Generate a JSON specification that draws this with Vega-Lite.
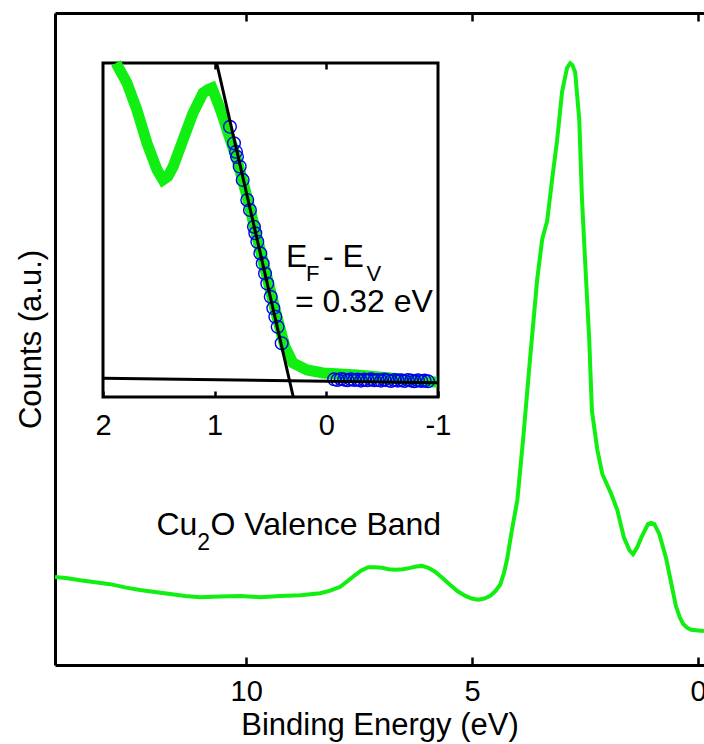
{
  "$schema": "https://vega.github.io/schema/vega-lite/v6.json",
  "autosize": "none",
  "width": 649,
  "height": 652,
  "padding": {"left": 55, "top": 13, "right": 0, "bottom": 79},
  "background": "white",
  "config": {
    "view": {"stroke": null},
    "font": "Liberation Sans",
    "axis": {
      "domainColor": "black", "domainWidth": 3, "tickColor": "black", "tickWidth": 2.5,
      "labelColor": "black", "titleColor": "black", "labelFont": "Liberation Sans", "titleFont": "Liberation Sans",
      "labelFontSize": 29, "titleFontSize": 31, "titleFontWeight": "normal", "grid": false,
      "labelFlush": false, "labelOverlap": false
    },
    "text": {"font": "Liberation Sans", "color": "black"}
  },
  "resolve": {"scale": {"x": "independent", "y": "independent"}, "axis": {"x": "independent", "y": "independent"}},
  "layer": [
    {
      "data": {"values": [
        {"e":14.23,"c":13.5},{"e":13.95,"c":13.3},{"e":13.67,"c":13.0},{"e":13.34,"c":12.7},{"e":13.01,"c":12.4},{"e":12.68,"c":11.9},{"e":12.35,"c":11.5},{"e":12.02,"c":11.2},{"e":11.68,"c":10.9},{"e":11.35,"c":10.6},{"e":11.02,"c":10.4},{"e":10.57,"c":10.5},{"e":10.13,"c":10.6},{"e":9.69,"c":10.4},{"e":9.25,"c":10.6},{"e":8.80,"c":10.7},{"e":8.36,"c":11.0},{"e":8.14,"c":11.4},{"e":7.92,"c":12.0},{"e":7.75,"c":12.9},{"e":7.59,"c":13.8},{"e":7.45,"c":14.5},{"e":7.30,"c":15.0},{"e":7.15,"c":15.0},{"e":6.99,"c":14.9},{"e":6.85,"c":14.7},{"e":6.70,"c":14.6},{"e":6.53,"c":14.7},{"e":6.37,"c":14.9},{"e":6.24,"c":15.1},{"e":6.11,"c":15.2},{"e":5.97,"c":14.9},{"e":5.82,"c":14.3},{"e":5.65,"c":13.3},{"e":5.49,"c":12.3},{"e":5.32,"c":11.3},{"e":5.15,"c":10.6},{"e":5.01,"c":10.2},{"e":4.87,"c":10.0},{"e":4.73,"c":10.2},{"e":4.60,"c":10.6},{"e":4.49,"c":11.3},{"e":4.38,"c":12.3},{"e":4.30,"c":14.0},{"e":4.23,"c":16.1},{"e":4.12,"c":20.7},{"e":4.00,"c":25.3},{"e":3.87,"c":34.8},{"e":3.72,"c":46.9},{"e":3.56,"c":59.2},{"e":3.45,"c":65.3},{"e":3.34,"c":68.1},{"e":3.23,"c":74.5},{"e":3.12,"c":80.5},{"e":3.01,"c":87.9},{"e":2.90,"c":91.6},{"e":2.83,"c":92.3},{"e":2.78,"c":92.0},{"e":2.72,"c":90.9},{"e":2.63,"c":83.6},{"e":2.57,"c":71.5},{"e":2.48,"c":59.2},{"e":2.41,"c":50.0},{"e":2.35,"c":39.0},{"e":2.23,"c":33.0},{"e":2.12,"c":29.3},{"e":1.92,"c":26.2},{"e":1.79,"c":23.8},{"e":1.64,"c":19.5},{"e":1.52,"c":17.6},{"e":1.44,"c":17.0},{"e":1.35,"c":18.0},{"e":1.26,"c":19.5},{"e":1.11,"c":21.6},{"e":1.04,"c":21.8},{"e":0.97,"c":21.6},{"e":0.86,"c":20.1},{"e":0.71,"c":16.4},{"e":0.60,"c":12.7},{"e":0.49,"c":9.0},{"e":0.40,"c":7.2},{"e":0.33,"c":6.3},{"e":0.24,"c":5.7},{"e":0.15,"c":5.4},{"e":0.0,"c":5.3},{"e":-0.13,"c":5.2}
      ]},
      "mark": {"type": "line", "color": "#11ee11", "strokeWidth": 4},
      "encoding": {
        "x": {"field": "e", "type": "quantitative",
          "scale": {"domain": [14.23, -0.13], "nice": false, "zero": false},
          "axis": {"orient": "bottom", "values": [10, 5, 0], "title": "Binding Energy (eV)", "tickSize": -8, "labelPadding": 20, "titlePadding": 4}},
        "y": {"field": "c", "type": "quantitative",
          "scale": {"domain": [0, 100], "nice": false, "zero": false},
          "axis": {"orient": "left", "title": "Counts (a.u.)", "labels": false, "ticks": false, "titlePadding": 8}}
      }
    },
    {
      "data": {"values": [{}]},
      "mark": {"type": "rule", "opacity": 0},
      "encoding": {
        "x": {"datum": 5, "type": "quantitative",
          "scale": {"domain": [14.23, -0.13], "nice": false, "zero": false},
          "axis": {"orient": "top", "values": [10, 5, 0], "labels": false, "title": null, "tickSize": -8}}
      }
    },
    {
      "data": {"values": [{}]},
      "mark": {"type": "text", "text": "Cu", "fontSize": 32, "align": "right", "baseline": "alphabetic"},
      "encoding": {
        "x": {"datum": 11.08, "type": "quantitative", "scale": {"domain": [14.23, -0.13], "nice": false, "zero": false}, "axis": null},
        "y": {"datum": 19.9, "type": "quantitative", "scale": {"domain": [0, 100], "nice": false, "zero": false}, "axis": null}
      }
    },
    {
      "data": {"values": [{}]},
      "mark": {"type": "text", "text": "2", "fontSize": 23, "align": "left", "baseline": "alphabetic"},
      "encoding": {
        "x": {"datum": 11.08, "type": "quantitative", "scale": {"domain": [14.23, -0.13], "nice": false, "zero": false}, "axis": null},
        "y": {"datum": 17.7, "type": "quantitative", "scale": {"domain": [0, 100], "nice": false, "zero": false}, "axis": null}
      }
    },
    {
      "data": {"values": [{}]},
      "mark": {"type": "text", "text": "O Valence Band", "fontSize": 32, "align": "left", "baseline": "alphabetic"},
      "encoding": {
        "x": {"datum": 10.79, "type": "quantitative", "scale": {"domain": [14.23, -0.13], "nice": false, "zero": false}, "axis": null},
        "y": {"datum": 19.9, "type": "quantitative", "scale": {"domain": [0, 100], "nice": false, "zero": false}, "axis": null}
      }
    },
    {
      "data": {"values": [{}]},
      "mark": {"type": "rect", "fill": "transparent", "stroke": "black", "strokeWidth": 3},
      "encoding": {
        "x": {"datum": 2, "type": "quantitative",
          "scale": {"domain": [2, -1], "range": [48, 383], "nice": false, "zero": false},
          "axis": {"orient": "bottom", "offset": -268, "values": [2, 1, 0, -1], "labelExpr": "'' + datum.value", "title": null, "domain": false, "tickSize": -6, "labelPadding": 20}},
        "x2": {"datum": -1},
        "y": {"datum": 0, "type": "quantitative",
          "scale": {"domain": [0, 100], "range": [384, 50], "nice": false, "zero": false}, "axis": null},
        "y2": {"datum": 100}
      }
    },
    {
      "data": {"values": [{}]},
      "mark": {"type": "rule", "opacity": 0},
      "encoding": {
        "x": {"datum": 0.5, "type": "quantitative",
          "scale": {"domain": [2, -1], "range": [48, 383], "nice": false, "zero": false},
          "axis": {"orient": "top", "offset": -50, "values": [1, 0], "labels": false, "title": null, "domain": false, "tickSize": -6}}
      }
    },
    {
      "data": {"values": [
        {"e":1.884,"c":100},{"e":1.785,"c":94.0},{"e":1.696,"c":85.9},{"e":1.606,"c":76.0},{"e":1.516,"c":68.0},{"e":1.463,"c":65.0},{"e":1.42,"c":66.0},{"e":1.373,"c":68.9},{"e":1.284,"c":76.9},{"e":1.194,"c":85.0},{"e":1.104,"c":91.0},{"e":1.06,"c":92.0},{"e":1.024,"c":92.5},{"e":0.970,"c":88.0},{"e":0.925,"c":83.8},{"e":0.890,"c":80.0},{"e":0.800,"c":71.0},{"e":0.710,"c":59.9},{"e":0.621,"c":47.9},{"e":0.531,"c":35.9},{"e":0.442,"c":24.0},{"e":0.370,"c":15.0},{"e":0.299,"c":10.2},{"e":0.173,"c":8.1},{"e":0.030,"c":7.2},{"e":-0.275,"c":6.6},{"e":-0.570,"c":5.7},{"e":-0.928,"c":4.5},{"e":-0.99,"c":4.5}
      ]},
      "mark": {"type": "line", "color": "#11ee11", "strokeWidth": 11},
      "encoding": {
        "x": {"field": "e", "type": "quantitative", "scale": {"domain": [2, -1], "range": [48, 383], "nice": false, "zero": false}, "axis": null},
        "y": {"field": "c", "type": "quantitative", "scale": {"domain": [0, 100], "range": [384, 50], "nice": false, "zero": false}, "axis": null}
      }
    },
    {
      "data": {"values": [
        {"e":0.863,"c":80.9},{"e":0.827,"c":76.0},{"e":0.809,"c":73.4},{"e":0.800,"c":71.9},{"e":0.776,"c":69.0},{"e":0.749,"c":65.0},{"e":0.708,"c":59.0},{"e":0.684,"c":56.0},{"e":0.648,"c":51.0},{"e":0.636,"c":49.0},{"e":0.618,"c":46.5},{"e":0.591,"c":43.0},{"e":0.570,"c":40.0},{"e":0.549,"c":37.0},{"e":0.529,"c":34.0},{"e":0.498,"c":30.0},{"e":0.475,"c":26.6},{"e":0.457,"c":24.0},{"e":0.436,"c":21.0},{"e":0.400,"c":16.1},
        {"e":-0.07,"c":5.3},{"e":-0.10,"c":5.1},{"e":-0.13,"c":5.4},{"e":-0.16,"c":5.2},{"e":-0.19,"c":5.0},{"e":-0.22,"c":5.3},{"e":-0.25,"c":5.1},{"e":-0.28,"c":5.2},{"e":-0.31,"c":4.9},{"e":-0.34,"c":5.2},{"e":-0.37,"c":5.0},{"e":-0.40,"c":5.3},{"e":-0.43,"c":5.0},{"e":-0.46,"c":5.1},{"e":-0.49,"c":4.9},{"e":-0.52,"c":5.2},{"e":-0.55,"c":5.0},{"e":-0.58,"c":4.8},{"e":-0.61,"c":5.1},{"e":-0.64,"c":4.9},{"e":-0.67,"c":5.0},{"e":-0.70,"c":4.8},{"e":-0.73,"c":5.1},{"e":-0.76,"c":4.9},{"e":-0.79,"c":4.7},{"e":-0.82,"c":5.0},{"e":-0.85,"c":4.8},{"e":-0.88,"c":4.9},{"e":-0.91,"c":4.7}
      ]},
      "mark": {"type": "point", "shape": "circle", "filled": false, "color": "#0000ee", "size": 160, "strokeWidth": 1.4, "opacity": 1},
      "encoding": {
        "x": {"field": "e", "type": "quantitative", "scale": {"domain": [2, -1], "range": [48, 383], "nice": false, "zero": false}, "axis": null},
        "y": {"field": "c", "type": "quantitative", "scale": {"domain": [0, 100], "range": [384, 50], "nice": false, "zero": false}, "axis": null}
      }
    },
    {
      "data": {"values": [
        {"e":0.982,"c":100,"e2":0.296,"c2":0},
        {"e":2,"c":5.6,"e2":-1,"c2":4.3}
      ]},
      "mark": {"type": "rule", "color": "black", "strokeWidth": 3},
      "encoding": {
        "x": {"field": "e", "type": "quantitative", "scale": {"domain": [2, -1], "range": [48, 383], "nice": false, "zero": false}, "axis": null},
        "y": {"field": "c", "type": "quantitative", "scale": {"domain": [0, 100], "range": [384, 50], "nice": false, "zero": false}, "axis": null},
        "x2": {"field": "e2"},
        "y2": {"field": "c2"}
      }
    },
    {
      "data": {"values": [
        {"t":"E","e":0.361,"c":38.9},
        {"t":"- E","e":0.030,"c":38.9},
        {"t":"= 0.32 eV","e":0.281,"c":25.4}
      ]},
      "mark": {"type": "text", "fontSize": 32, "align": "left", "baseline": "alphabetic"},
      "encoding": {
        "x": {"field": "e", "type": "quantitative", "scale": {"domain": [2, -1], "range": [48, 383], "nice": false, "zero": false}, "axis": null},
        "y": {"field": "c", "type": "quantitative", "scale": {"domain": [0, 100], "range": [384, 50], "nice": false, "zero": false}, "axis": null},
        "text": {"field": "t"}
      }
    },
    {
      "data": {"values": [
        {"t":"F","e":0.183,"c":34.8},
        {"t":"V","e":-0.36,"c":34.8}
      ]},
      "mark": {"type": "text", "fontSize": 22, "align": "left", "baseline": "alphabetic"},
      "encoding": {
        "x": {"field": "e", "type": "quantitative", "scale": {"domain": [2, -1], "range": [48, 383], "nice": false, "zero": false}, "axis": null},
        "y": {"field": "c", "type": "quantitative", "scale": {"domain": [0, 100], "range": [384, 50], "nice": false, "zero": false}, "axis": null},
        "text": {"field": "t"}
      }
    }
  ]
}
